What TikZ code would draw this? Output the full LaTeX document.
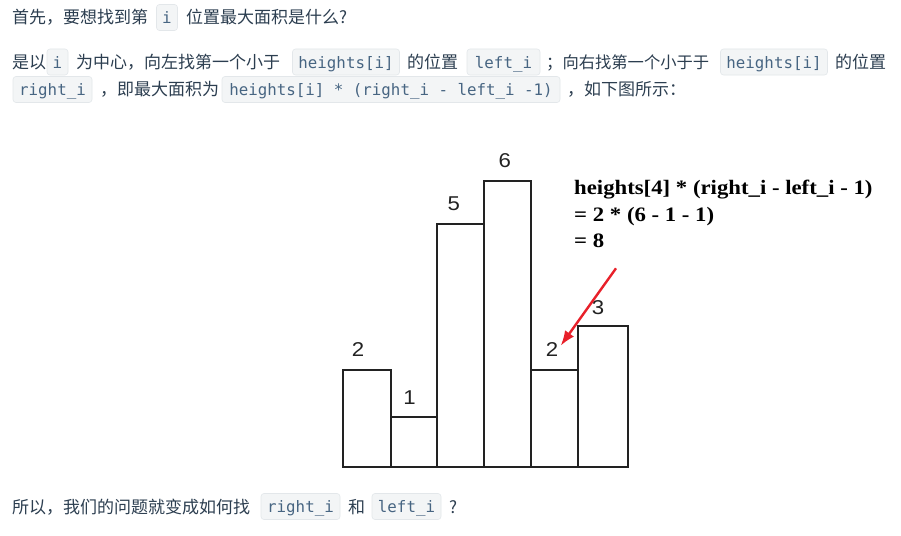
\documentclass[tikz,border=0pt]{standalone}
\usepackage{fontspec}
\usepackage{graphicx}
\setmainfont{Liberation Serif}
\newfontfamily\cjkf{Noto Sans CJK SC}
\newfontfamily\monof{DejaVu Sans Mono}
\newfontfamily\labf{Liberation Sans}
\usetikzlibrary{arrows.meta}
\definecolor{txt}{HTML}{2C3E50}
\definecolor{codec}{HTML}{476582}
\definecolor{codebg}{HTML}{F3F5F6}
\definecolor{codebd}{HTML}{E3E7EA}
\definecolor{barc}{HTML}{222222}
\definecolor{arrowred}{HTML}{E8202A}
\newcommand\wide[1]{\scalebox{1.11}[1]{#1}}
\tikzset{
  cn/.style={anchor=base west, inner sep=0pt, text=txt, font=\cjkf\fontsize{17}{20}\selectfont},
  cnsmall/.style={cn, font=\cjkf\fontsize{16.3}{20}\selectfont},
  codebox/.style={fill=codebg, draw=codebd, line width=0.6pt, rounded corners=3pt,
    minimum height=26pt, inner sep=0pt, text height=13.5pt, text depth=1.5pt,
    text=codec, font=\monof\fontsize{15.8}{18}\selectfont},
  barshape/.style={draw=barc, line width=2pt},
  barlab/.style={inner sep=0pt, anchor=center, text=barc, font=\labf\fontsize{20}{22}\selectfont},
  calc/.style={anchor=base west, inner sep=0pt, font=\bfseries\fontsize{20.5}{24}\selectfont},
  redarrow/.style={draw=arrowred, line width=2.4pt, -{Latex[length=15pt,width=11pt]}},
}
\begin{document}
\begin{tikzpicture}[x=1pt,y=-1pt]
\useasboundingbox (0,0) rectangle (901,535);
\fill[white] (0,0) rectangle (901,535);
% line 1
\node[cn] (t1a) at (12,24) {首先，要想找到第};
\node[codebox, minimum width=21pt] (c1) at (167,17.5) {i};
\node[cn] (t1b) at (186,24) {位置最大面积是什么?};
% line 2
\node[cn] (t2a) at (12,68) {是以};
\node[codebox, minimum width=21pt] (c2) at (57.5,62) {i};
\node[cn] (t2b) at (76,68) {为中心，向左找第一个小于};
\node[codebox, minimum width=107pt] (c3) at (346,62) {heights[i]};
\node[cn] (t2c) at (407,68) {的位置};
\node[codebox, minimum width=73pt] (c4) at (503.5,62) {left\_i};
\node[cnsmall] (t2d) at (546,68) {；向右找第一个小于于};
\node[codebox, minimum width=107pt] (c5) at (774,62) {heights[i]};
\node[cn] (t2e) at (835,68) {的位置};
% line 3
\node[codebox, minimum width=79pt] (c6) at (52.5,89.5) {right\_i};
\node[cn] (t3a) at (100,95.5) {，即最大面积为};
\node[codebox, minimum width=338pt] (c7) at (391,89.5) {heights[i] * (right\_i - left\_i -1)};
\node[cn] (t3b) at (567,95.5) {，如下图所示：};
% bars
\draw[barshape] (343,467) rectangle (390.5,370);
\draw[barshape] (390.5,467) rectangle (437.3,417.3);
\draw[barshape] (437.3,467) rectangle (484.3,224.3);
\draw[barshape] (484.3,467) rectangle (531.3,181);
\draw[barshape] (531.3,467) rectangle (578.3,370);
\draw[barshape] (578.3,467) rectangle (628.3,326);
\node[barlab] (l1) at (358,349.5) {\wide{2}};
\node[barlab] (l2) at (409.5,398) {\wide{1}};
\node[barlab] (l3) at (453.7,204) {\wide{5}};
\node[barlab] (l4) at (504.7,160.3) {\wide{6}};
\node[barlab] (l5) at (552,349.5) {\wide{2}};
\node[barlab] (l6) at (598,308) {\wide{3}};
% calculation
\node[calc] (k1) at (574,194.3) {\wide{heights[4] * (right\_i - left\_i - 1)}};
\node[calc] (k2) at (574,221) {\wide{= 2 * (6 - 1 - 1)}};
\node[calc] (k3) at (574,247.3) {\wide{= 8}};
% arrow
\coordinate (as) at (616,268.3);
\coordinate (ae) at (560.7,345.7);
\draw[redarrow] (as) -- (ae);
% bottom line
\node[cn] (t4a) at (12,513) {所以，我们的问题就变成如何找};
\node[codebox, minimum width=79pt] (c8) at (300.5,506.5) {right\_i};
\node[cn] (t4b) at (348,513) {和};
\node[codebox, minimum width=69pt] (c9) at (406.5,506.5) {left\_i};
\node[cn] (t4c) at (449,513) {?};
\end{tikzpicture}
\end{document}
